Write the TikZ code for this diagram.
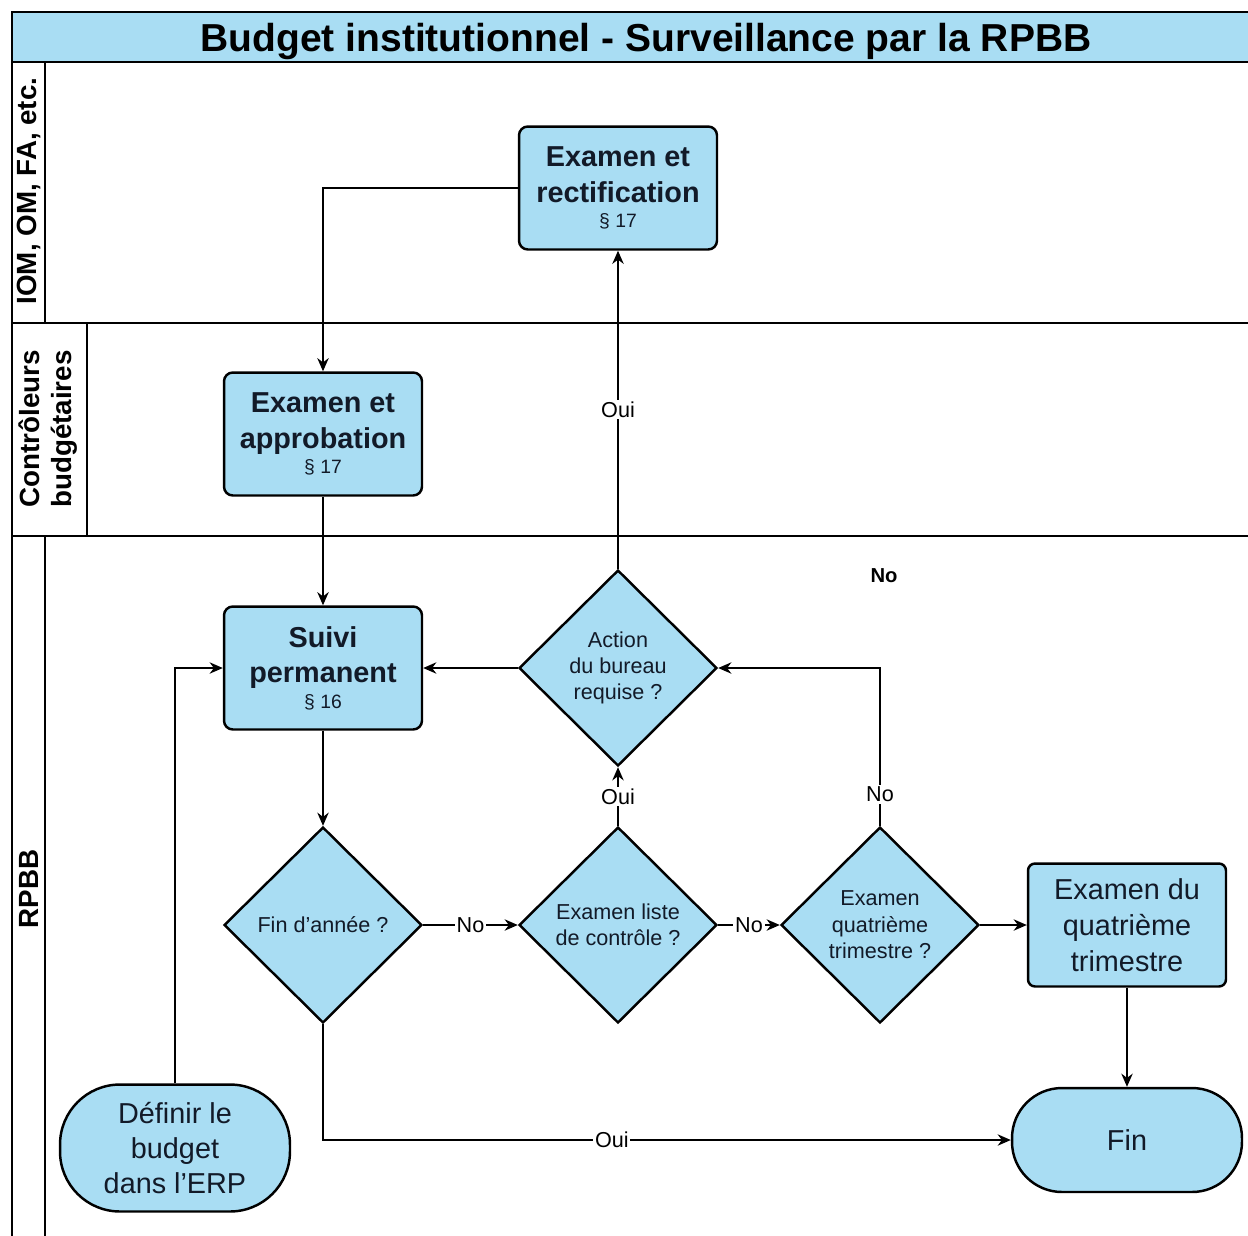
\documentclass[tikz,border=0pt]{standalone}
\usepackage{fontspec}
\setmainfont{Liberation Sans}
\usetikzlibrary{shapes.geometric,arrows.meta}
\definecolor{laneblue}{RGB}{169,221,243}
\definecolor{inkblue}{RGB}{18,26,40}
\tikzset{
	task/.style={draw, line width=1.4pt, fill=laneblue, rounded corners=5pt, minimum width=3.96cm, minimum height=2.46cm, align=center, text=inkblue, font=\fontsize{16.4}{20.4}\selectfont},
	decision/.style={diamond, draw, line width=1.4pt, fill=laneblue, aspect=1, inner sep=0pt, minimum width=3.96cm, minimum height=3.92cm, align=center, text=inkblue, font=\fontsize{12.3}{15}\selectfont},
	terminal/.style={draw, line width=1.4pt, fill=laneblue, minimum width=4.6cm, align=center, text=inkblue, font=\fontsize{16.4}{19.8}\selectfont},
	flow/.style={-{Stealth[length=7.5pt,width=6.5pt]}, line width=0.85pt},
	answer/.style={fill=white, inner sep=1pt, font=\fontsize{12.3}{14}\selectfont},
	lane/.style={line width=0.75pt},
	lanelabel/.style={rotate=90, font=\bfseries\fontsize{15.8}{18}\selectfont, align=center},
}
\newcommand{\sectref}[1]{\\[-6pt]{\fontsize{11}{13}\selectfont § #1}}

\begin{document}
\begin{tikzpicture}[x=0.02cm, y=-0.02cm]  % swimlanes RPBB
	\useasboundingbox (0,0) rectangle (1248,1235);
	% lanes
	\draw[lane, fill=laneblue] (12,12) rectangle (1252,62);
	\node[font=\bfseries\fontsize{22.2}{26}\selectfont] (title) at (646,41) {Budget institutionnel - Surveillance par la RPBB};
	\draw[lane] (12,62) -- (12,1240);
	\draw[lane] (12,323) -- (1252,323);
	\draw[lane] (12,536) -- (1252,536);
	\draw[lane] (45,62) -- (45,323);
	\draw[lane] (87,323) -- (87,536);
	\draw[lane] (45,536) -- (45,1240);
	\node[lanelabel] (laneA) at (29,191) {IOM, OM, FA, etc.};
	\node[lanelabel] (laneB) at (48,429) {Contrôleurs\\budgétaires};
	\node[lanelabel] (laneC) at (29,889) {RPBB};

	% steps
	\node[task] (rectif) at (618,188) {\textbf{Examen et}\\\textbf{rectification}\sectref{17}};
	\node[task] (approb) at (323,434) {\textbf{Examen et}\\\textbf{approbation}\sectref{17}};
	\node[task] (suivi) at (323,668) {\textbf{Suivi}\\\textbf{permanent}\sectref{16}};
	\node[decision] (action) at (618,668) {Action\\du bureau\\requise ?};
	\node[decision] (finan) at (323,925) {Fin d’année ?};
	\node[decision] (liste) at (618,925) {Examen liste\\de contrôle ?};
	\node[decision] (quatq) at (880,925) {Examen\\quatrième\\trimestre ?};
	\node[task, rounded corners=4pt, minimum height=2.46cm] (quatex) at (1127,925) {Examen du\\quatrième\\trimestre};
	\node[terminal, minimum height=2.08cm, rounded corners=1cm] (fin) at (1127,1140) {Fin};
	\node[terminal, minimum height=2.54cm, rounded corners=1.2cm] (define) at (175,1148) {Définir le\\budget\\dans l’ERP};
	\node[font=\bfseries\fontsize{11.5}{13}\selectfont] (nolbl) at (884,576) {No};

	% flows
	\draw[flow] (rectif.west) -| (approb.north);
	\draw[flow] (approb) -- (suivi);
	\draw[flow] (action) -- (suivi);
	\draw[flow] (action) -- node[answer]{Oui} (rectif);
	\draw[flow] (suivi) -- (finan);
	\draw[flow] (finan) -- node[answer]{No} (liste);
	\draw[flow] (liste) -- node[answer]{No} (quatq);
	\draw[flow] (liste) -- node[answer]{Oui} (action);
	\draw[flow] (quatq.north) |- node[answer, pos=0.1]{No} (action.east);
	\draw[flow] (quatq) -- (quatex);
	\draw[flow] (quatex) -- (fin);
	\draw[flow] (finan.south) |- node[answer, pos=0.71]{Oui} (fin.west);
	\draw[flow] (define.north) |- (suivi.west);
\end{tikzpicture}
\end{document}
